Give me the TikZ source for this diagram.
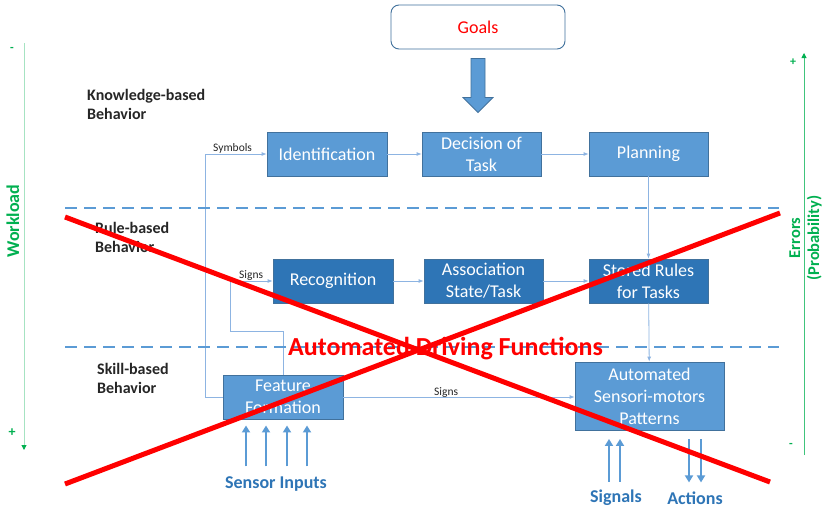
\documentclass[tikz,border=0pt]{standalone}
\usepackage{fontspec}
\setmainfont{Carlito}
\usetikzlibrary{arrows.meta,calc}
\definecolor{lb}{HTML}{5B9BD5}
\definecolor{db}{HTML}{2E75B6}
\definecolor{bd}{HTML}{41719C}
\definecolor{cn}{HTML}{8DB4E2}
\definecolor{gr}{HTML}{00B050}
\definecolor{txt}{HTML}{262626}
\begin{document}
\begin{tikzpicture}[x=1pt,y=-1pt,
  box/.style={draw=bd, line width=0.8pt, text=white, align=center,
    font=\fontsize{18}{22}\selectfont, minimum height=44pt, minimum width=120pt, inner sep=1pt},
  lbox/.style={box, fill=lb},
  dbox/.style={box, fill=db},
  conn/.style={draw=cn, line width=0.8pt},
  arr/.style={conn, -{Latex[length=5pt,width=4pt]}},
  beh/.style={font=\fontsize{16}{19}\selectfont\bfseries, align=left, anchor=west, text=txt, inner sep=0pt},
  small/.style={font=\fontsize{11.5}{13}\selectfont, text=txt, inner sep=0pt},
  band/.style={draw=lb, line width=2pt, dash pattern=on 12pt off 7pt},
  io/.style={draw=lb, line width=2.2pt, -{Triangle[length=7pt,width=8pt]}},
  iolab/.style={font=\fontsize{18}{21}\selectfont\bfseries, text=db, inner sep=0pt},
  glab/.style={font=\fontsize{18}{22}\selectfont\bfseries, text=gr, align=center, inner sep=0pt},
  cross/.style={draw=red, line width=5pt}
]
\useasboundingbox[fill=white] (0,0) rectangle (824,512);

% goals and big arrow
\node[draw=bd, line width=0.9pt, rounded corners=8pt, fill=white, minimum width=174pt,
  minimum height=44pt, text=red, font=\fontsize{18}{22}\selectfont] (goals) at (478,27) {Goals};
\begin{scope}[shift={(goals.south)}]
\filldraw[fill=lb, draw=bd, line width=0.8pt] (-7,9) -- (7,9) -- (7,48) -- (15,48) -- (0,63) -- (-15,48) -- (-7,48) -- cycle;
\end{scope}

% boxes
\node[lbox] (ident) at (327,154) {Identification};
\node[lbox, minimum width=119pt] (dec) at (481.5,154) {Decision of\\Task};
\node[lbox, minimum width=119pt] (plan) at (648.5,154) {Planning};
\node[dbox] (recog) at (333,281) {Recognition};
\node[dbox, minimum width=119pt] (assoc) at (483.5,281) {Association\\State/Task};
\node[dbox, minimum width=119pt] (rules) at (648.5,281) {Stored Rules\\for Tasks};
\node[lbox] (feat) at (283,397) {Feature\\Formation};
\node[lbox, minimum width=149pt, minimum height=68pt] (auto) at (649.5,396) {Automated\\Sensori-motors\\Patterns};

% connectors
\draw[arr] (ident) -- (dec);
\draw[arr] (dec) -- (plan);
\draw[arr] (recog) -- (assoc);
\draw[arr] (assoc) -- (rules);
\draw[arr] (plan) -- (rules);
\draw[arr] (rules) -- (auto);
\draw[arr] (feat.west) -- ++(-17,0) |- (ident.west);
\coordinate (sg) at (230,331);
\draw[arr] (feat.north) |- (sg) |- (recog.west);
\draw[arr] (feat.east) -- (feat.east -| auto.west);
\node[small, anchor=base west] (lsym) at (213,151) {Symbols};
\node[small, anchor=base west] (lsg1) at (239,278) {Signs};
\node[small, anchor=base west] (lsg2) at (434,395) {Signs};

% band separators
\draw[band] (65,208) -- (779,208);
\draw[band] (65,347) -- (779,347);

% behaviour labels
\node[beh] (kb) at (87,104) {Knowledge-based\\Behavior};
\node[beh] (rb) at (95,237) {Rule-based\\Behavior};
\node[beh] (sb) at (97,378) {Skill-based\\Behavior};

% inputs / outputs
\node[iolab] (sens) at (276,484) {Sensor Inputs};
\foreach \dx in {-30,-10,11,31} \draw[io] ($(sens.north)+(\dx,-10)$) -- ++(0,-41);
\node[iolab] (sig) at (616,498) {Signals};
\node[iolab] (act) at (695,498) {Actions};
\draw[io] ($(sig.north)+(-7,-8)$) -- ++(0,-43);
\draw[io] ($(sig.north)+(4,-8)$) -- ++(0,-43);
\draw[io] ($(act.north)+(-6,-52)$) -- ++(0,43);
\draw[io] ($(act.north)+(6,-52)$) -- ++(0,43);

% green axes
\coordinate (wl0) at (24,43);
\coordinate (wl1) at (24,450);
\draw[draw=gr!35, line width=0.9pt, -{Triangle[length=5pt,width=5pt,fill=gr,color=gr]}] (wl0) -- (wl1);
\node[glab, font=\fontsize{12}{12}\selectfont\bfseries] (wlm) at (12,49) {-};
\node[glab, font=\fontsize{14}{14}\selectfont\bfseries] (wlp) at (12,433) {+};
\node[glab, rotate=90] (wl) at (13,221) {Workload};
\coordinate (er0) at (804,455);
\coordinate (er1) at (804,53);
\draw[draw=gr!75, line width=0.9pt, -{Triangle[length=5pt,width=5pt,fill=gr,color=gr]}] (er0) -- (er1);
\node[glab, font=\fontsize{12}{12}\selectfont\bfseries] (erp) at (793,62) {+};
\node[glab, font=\fontsize{12}{12}\selectfont\bfseries] (erm) at (791,445) {-};
\node[glab, rotate=90, font=\fontsize{16.5}{19}\selectfont\bfseries] (er) at (805.5,238) {Errors\\(Probability)};

% red cross-out
\node[text=red, font=\fontsize{26}{30}\selectfont\bfseries, anchor=base, inner sep=0pt] (adf) at (445.5,355) {Automated Driving Functions};
\draw[cross] (65,217) -- (770,482);
\draw[cross] (65,484) -- (780,213);
\end{tikzpicture}
\end{document}
